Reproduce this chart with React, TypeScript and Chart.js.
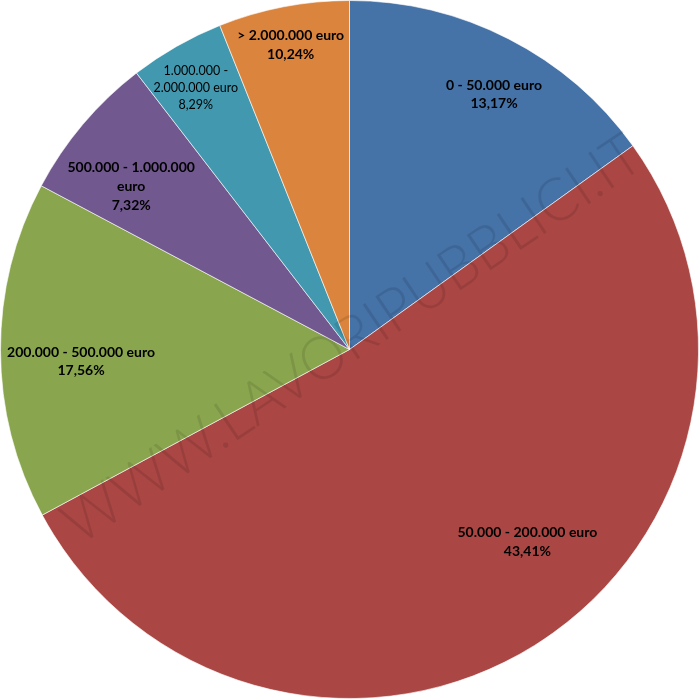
import React, { useEffect, useRef } from "react";
import { Chart, registerables } from "chart.js";

Chart.register(...registerables);

const categories = [
  "0 - 50.000 euro",
  "50.000 - 200.000 euro",
  "200.000 - 500.000 euro",
  "500.000 - 1.000.000 euro",
  "1.000.000 - 2.000.000 euro",
  "> 2.000.000 euro",
];
// slice sizes as drawn in the picture
const sliceValues = [15.08, 52.06, 15.64, 6.78, 4.39, 6.06];
// percentages printed in the labels
const labelPercents = ["13,17%", "43,41%", "17,56%", "7,32%", "8,29%", "10,24%"];
const labelLines = [
  ["0 - 50.000 euro"],
  ["50.000 - 200.000 euro"],
  ["200.000 - 500.000 euro"],
  ["500.000 - 1.000.000", "euro"],
  ["1.000.000 -", "2.000.000 euro"],
  ["> 2.000.000 euro"],
];
const colors = ["#4572A7", "#AA4643", "#89A54E", "#71588F", "#4198AF", "#DB843D"];

const labelStyle = {
  radius: [0.84, 0.75, 0.77, 0.78, 0.87, 0.89],
  angleOffset: [2.4, -10.8, -2.4, -3.5, -0.7, 0],
  font: ["bold 14px Lato", "bold 14px Lato", "bold 14px Lato", "bold 14px Lato", "12.5px Lato", "bold 14px Lato"],
  lineHeight: [18, 19, 18, 19, 17, 19],
};

const watermarkPlugin = {
  id: "watermark",
  afterDatasetsDraw(chart: any) {
    const { ctx, chartArea } = chart;
    const cx = (chartArea.left + chartArea.right) / 2;
    const cy = (chartArea.top + chartArea.bottom) / 2;
    ctx.save();
    ctx.translate(cx + 3, cy - 10);
    ctx.rotate((-33.9 * Math.PI) / 180);
    ctx.scale(0.95, 1);
    ctx.font = "300 60px Lato, 'Liberation Sans'";
    ctx.fillStyle = "rgba(0,0,0,0.1)";
    ctx.textAlign = "center";
    ctx.textBaseline = "middle";
    ctx.fillText("WWW.LAVORIPUBBLICI.IT", 0, 0);
    ctx.restore();
  },
};

const labelPlugin = {
  id: "sliceLabels",
  afterDatasetsDraw(chart: any) {
    const { ctx } = chart;
    const meta = chart.getDatasetMeta(0);
    meta.data.forEach((arc: any, i: number) => {
      const mid = (arc.startAngle + arc.endAngle) / 2 + (labelStyle.angleOffset[i] * Math.PI) / 180;
      const r = arc.outerRadius * labelStyle.radius[i];
      const x = arc.x + Math.cos(mid) * r;
      const y = arc.y + Math.sin(mid) * r;
      const lines = [...labelLines[i], labelPercents[i]];
      const lh = labelStyle.lineHeight[i];
      ctx.save();
      ctx.font = labelStyle.font[i];
      ctx.fillStyle = "#000";
      ctx.textAlign = "center";
      ctx.textBaseline = "middle";
      const y0 = y - ((lines.length - 1) * lh) / 2;
      lines.forEach((t, k) => ctx.fillText(t, x, y0 + k * lh));
      ctx.restore();
    });
  },
};

export default function App() {
  const ref = useRef<HTMLCanvasElement | null>(null);
  useEffect(() => {
    document.body.style.margin = "0";
    const chart = new Chart(ref.current as HTMLCanvasElement, {
      type: "pie",
      data: {
        labels: categories,
        datasets: [
          {
            data: sliceValues,
            backgroundColor: colors,
            borderColor: "rgba(255,255,255,0.6)",
            borderWidth: 1,
          },
        ],
      },
      options: {
        animation: false,
        responsive: false,
        layout: { padding: 0 },
        plugins: { legend: { display: false }, tooltip: { enabled: false } },
      },
      plugins: [watermarkPlugin, labelPlugin],
    });
    return () => chart.destroy();
  }, []);
  return (
    <div style={{ width: 699, height: 699 }}>
      <canvas ref={ref} width={699} height={699} />
    </div>
  );
}
